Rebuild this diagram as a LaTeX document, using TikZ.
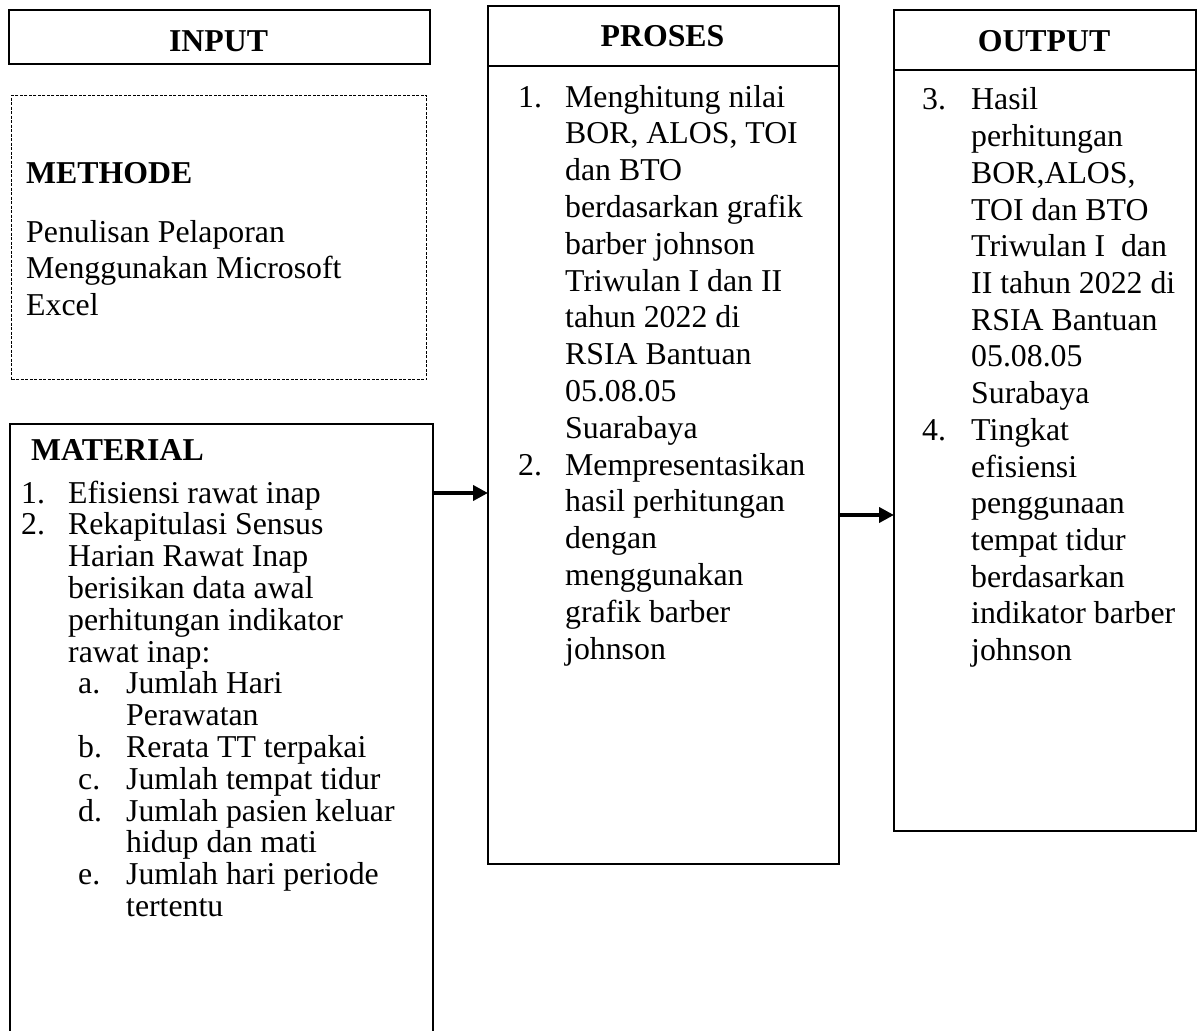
\documentclass[tikz,border=0pt]{standalone}
\usepackage{fontspec}
\setmainfont{Liberation Serif}
\usetikzlibrary{arrows.meta}
\newcommand\nm[1]{\makebox[47pt][l]{#1}}
\newcommand\ind{\hspace*{47pt}}
\newcommand\subnm[1]{\hspace*{57pt}\makebox[48pt][l]{#1}}
\newcommand\subind{\hspace*{105pt}}
\begin{document}
\begin{tikzpicture}[x=1pt,y=-1pt,
  box/.style={draw, line width=2.2pt, inner sep=0pt, anchor=north west},
  dbox/.style={draw, line width=1pt, dash pattern=on 3pt off 1.5pt, inner sep=0pt, anchor=north west},
  arr/.style={line width=3.8pt, -{Triangle[length=15pt,width=15pt]}, shorten >=-1pt},
  txt/.style={inner sep=0pt, anchor=base west, font=\fontsize{31.8pt}{36.8pt}\selectfont},
  txtm/.style={inner sep=0pt, anchor=base west, font=\fontsize{31.8pt}{31.8pt}\selectfont},
  head/.style={inner sep=0pt, anchor=base, font=\fontsize{31.8pt}{36.8pt}\selectfont\bfseries}]
\useasboundingbox (0,0) rectangle (1201,1030);
\fill[white] (0,0) rectangle (1201,1030);

% boxes
\node[box, minimum width=421pt, minimum height=54pt] (inbox) at (8,9) {};
\node[dbox, minimum width=415pt, minimum height=284pt] (methbox) at (11,95) {};
\node[box, minimum width=423pt, minimum height=660pt] (matbox) at (9,423) {};
\node[box, minimum width=351pt, minimum height=60pt] (phead) at (487,5) {};
\node[box, minimum width=351pt, minimum height=798pt] (pbody) at (487,65) {};
\node[box, minimum width=302pt, minimum height=60pt] (ohead) at (893,9) {};
\node[box, minimum width=302pt, minimum height=761pt] (obody) at (893,69) {};

% headings
\node[head] (tin) at (218.5,52) {INPUT};
\node[head] (tpr) at (662.5,47) {PROSES};
\node[head] (tout) at (1044,52) {OUTPUT};

% methode
\node[txt, font=\fontsize{31.8pt}{36.8pt}\selectfont\bfseries] (mhead) at (26,183) {METHODE};
\node[txt, font=\fontsize{31.8pt}{36.5pt}\selectfont] (mbody) at (26,242) {\begin{tabular}[t]{@{}l@{}}
Penulisan Pelaporan\\
Menggunakan Microsoft\\
Excel
\end{tabular}};

% material
\node[txt, font=\fontsize{31.8pt}{36.8pt}\selectfont\bfseries] (mathead) at (31,460) {MATERIAL};
\node[txtm] (matlist) at (21,503) {\begin{tabular}[t]{@{}l@{}}
\nm{1.}Efisiensi rawat inap\\
\nm{2.}Rekapitulasi Sensus\\
\ind Harian Rawat Inap\\
\ind berisikan data awal\\
\ind perhitungan indikator\\
\ind rawat inap:\\
\subnm{a.}Jumlah Hari\\
\subind Perawatan\\
\subnm{b.}Rerata TT terpakai\\
\subnm{c.}Jumlah tempat tidur\\
\subnm{d.}Jumlah pasien keluar\\
\subind hidup dan mati\\
\subnm{e.}Jumlah hari periode\\
\subind tertentu
\end{tabular}};

% proses
\node[txt] (plist) at (518,107) {\begin{tabular}[t]{@{}l@{}}
\nm{1.}Menghitung nilai\\
\ind BOR, ALOS, TOI\\
\ind dan BTO\\
\ind berdasarkan grafik\\
\ind barber johnson\\
\ind Triwulan I dan II\\
\ind tahun 2022 di\\
\ind RSIA Bantuan\\
\ind 05.08.05\\
\ind Suarabaya\\
\nm{2.}Mempresentasikan\\
\ind hasil perhitungan\\
\ind dengan\\
\ind menggunakan\\
\ind grafik barber\\
\ind johnson
\end{tabular}};

% output
\node[txt, font=\fontsize{31.8pt}{36.7pt}\selectfont] (olist) at (922,110) {\begin{tabular}[t]{@{}l@{}}
\makebox[49pt][l]{3.}Hasil\\
\hspace*{49pt}perhitungan\\
\hspace*{49pt}BOR,ALOS,\\
\hspace*{49pt}TOI dan BTO\\
\hspace*{49pt}Triwulan I~ dan\\
\hspace*{49pt}II tahun 2022 di\\
\hspace*{49pt}RSIA Bantuan\\
\hspace*{49pt}05.08.05\\
\hspace*{49pt}Surabaya\\
\makebox[49pt][l]{4.}Tingkat\\
\hspace*{49pt}efisiensi\\
\hspace*{49pt}penggunaan\\
\hspace*{49pt}tempat tidur\\
\hspace*{49pt}berdasarkan\\
\hspace*{49pt}indikator barber\\
\hspace*{49pt}johnson
\end{tabular}};

% arrows
\coordinate (a1) at (0,493);
\coordinate (a2) at (0,515);
\draw[arr] (matbox.east |- a1) -- (pbody.west |- a1);
\draw[arr] (pbody.east |- a2) -- (obody.west |- a2);
\end{tikzpicture}
\end{document}
